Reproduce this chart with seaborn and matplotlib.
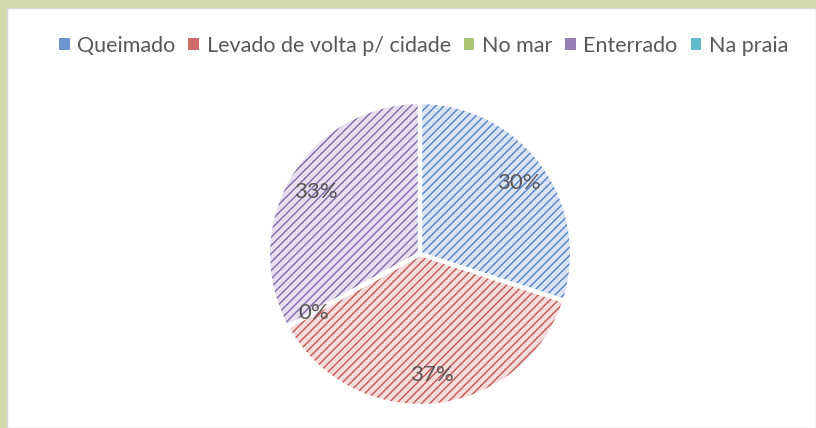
import matplotlib
matplotlib.use("Agg")
import matplotlib.pyplot as plt
from matplotlib.patches import Patch
import seaborn as sns

# data
categories = ["Queimado", "Levado de volta p/ cidade", "No mar", "Enterrado", "Na praia"]
values = [30, 37, 0, 33, 0]
hatch_colors = ["#5282c8", "#c85450", "#9bbb59", "#8468a8", "#4bacc6"]
face_colors = ["#dae4f4", "#f4dcdb", "#e6eed6", "#e5dfef", "#d6edf3"]

sns.set_theme(style="white")
plt.rcParams["font.family"] = ["Lato", "DejaVu Sans"]
plt.rcParams["hatch.linewidth"] = 1.0

fig = plt.figure(figsize=(8.16, 4.28), dpi=100)
fig.patch.set_facecolor("#d3dcae")

# white chart area with a greenish strip left/top
bg = fig.add_axes([7 / 816, 0, 1 - 7 / 816, 1 - 8 / 428])
bg.set_facecolor("white")
bg.set_xticks([])
bg.set_yticks([])
for s in bg.spines.values():
    s.set_color("#d9d9d9")
    s.set_linewidth(1)

ax = fig.add_axes([268 / 816, 22 / 428, 304 / 816, 304 / 428])
wedges, texts, autotexts = ax.pie(
    values,
    colors=face_colors,
    startangle=90,
    counterclock=False,
    autopct="%1.0f%%",
    pctdistance=0.8,
    wedgeprops=dict(linewidth=0, hatch="////"),
    textprops=dict(color="#595959", fontsize=16),
)
for w, hc in zip(wedges, hatch_colors):
    w.set_edgecolor(hc)
    w.set_linewidth(0)
for t in autotexts:
    t.set_zorder(10)
autotexts[4].set_visible(False)

# white separators between slices
ax.pie(values, startangle=90, counterclock=False,
       wedgeprops=dict(fill=False, edgecolor="white", linewidth=3))
ax.set_xlim(-1, 1)
ax.set_ylim(-1, 1)
ax.set_aspect("equal")

handles = [Patch(facecolor=hc, alpha=0.85, linewidth=0) for hc in hatch_colors]
fig.legend(handles, categories, loc="center", bbox_to_anchor=(0.519, 0.893),
           ncol=5, frameon=False, fontsize=15.5, handlelength=0.5, handleheight=0.5,
           handletextpad=0.35, columnspacing=0.6, labelcolor="#595959")

fig.savefig("out.png", dpi=100, facecolor=fig.get_facecolor())
